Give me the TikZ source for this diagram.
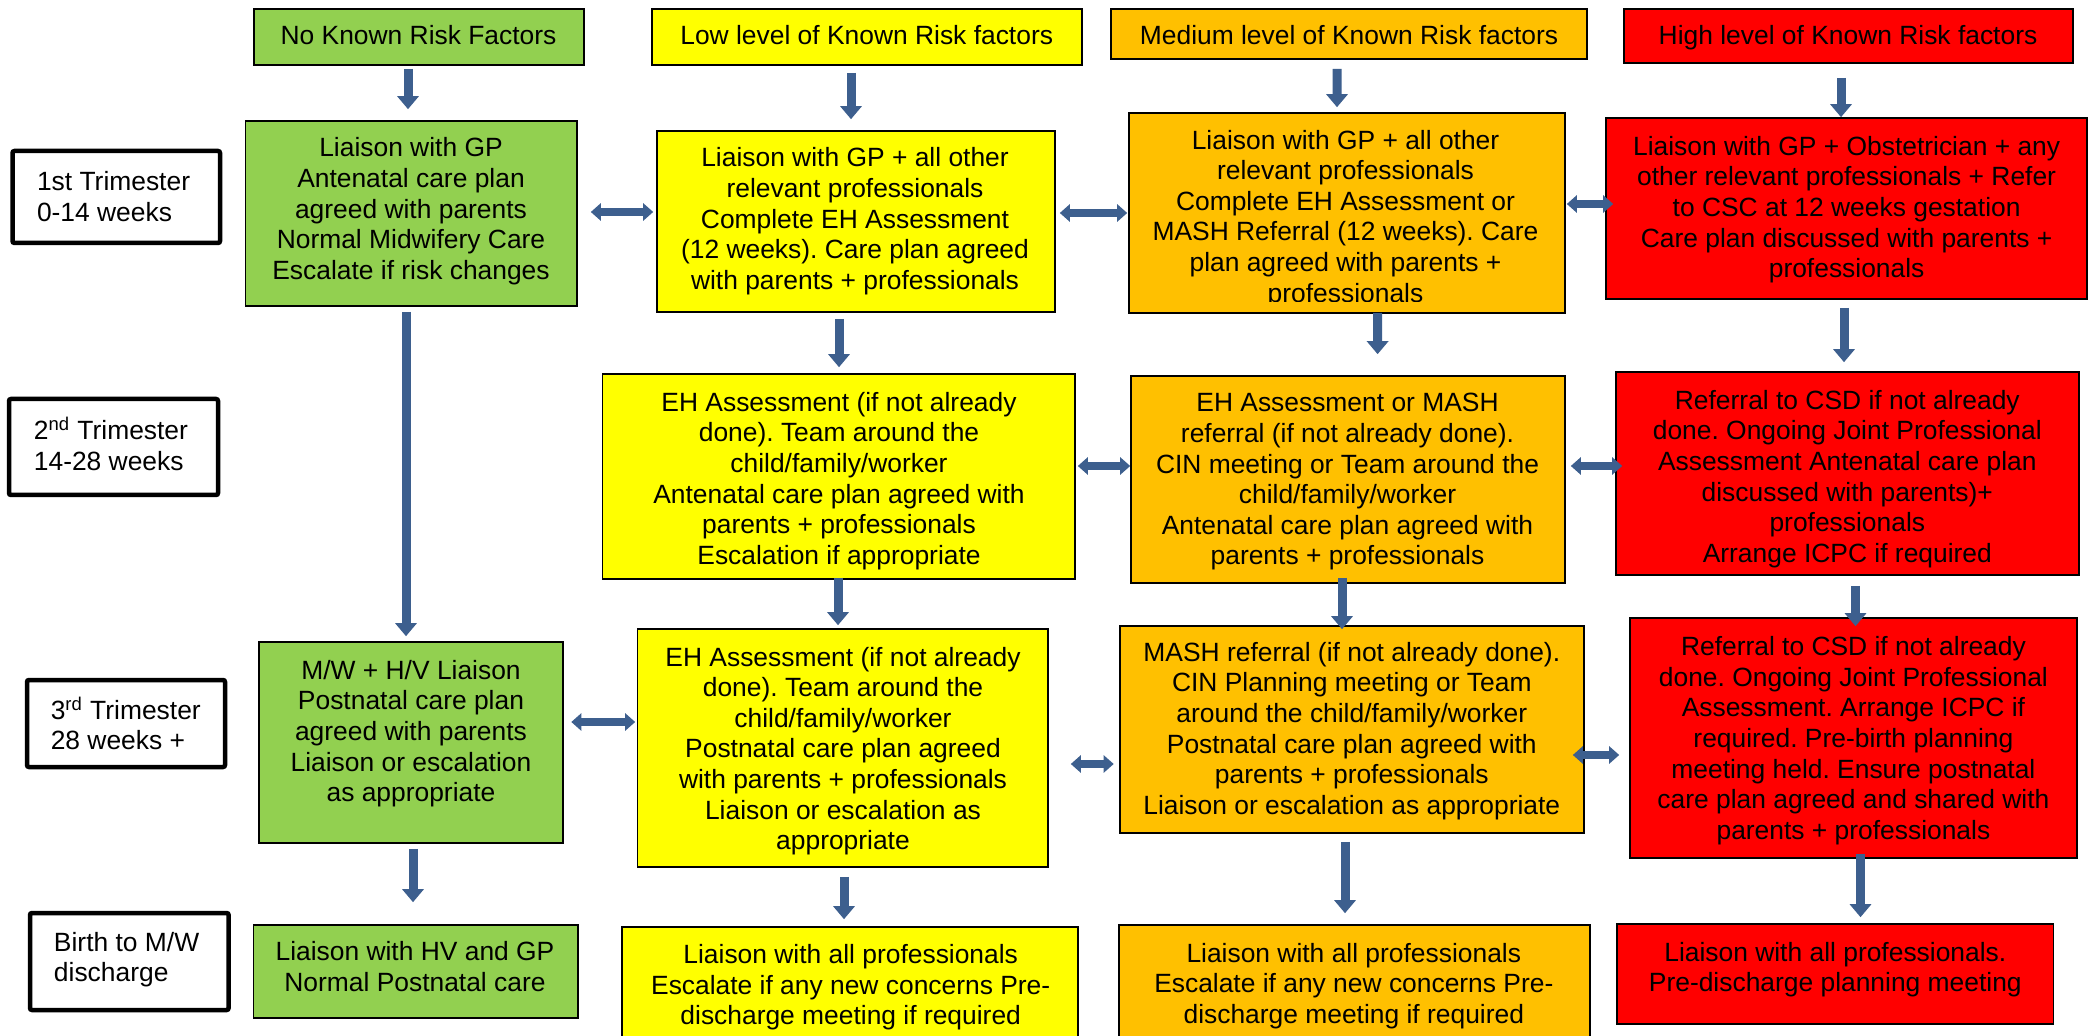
\documentclass[tikz,border=0pt]{standalone}
\usepackage{fontspec}
\setmainfont{Liberation Sans}
\usetikzlibrary{arrows.meta,calc,fit}
\definecolor{cgreen}{HTML}{92D050}
\definecolor{cyellow}{HTML}{FFFF00}
\definecolor{corange}{HTML}{FFC000}
\definecolor{cred}{HTML}{FF0000}
\definecolor{arrowc}{HTML}{3D5F8E}
\newcommand{\fs}{\fontsize{13.2pt}{15.3pt}\selectfont\frenchspacing}
\tikzset{
  box/.style={draw=black, line width=0.8pt, inner sep=0pt},
  hdr/.style={draw=black, line width=1pt, inner sep=0pt},
  lbl/.style={draw=black, line width=2.25pt, inner sep=0pt, rounded corners=1pt, fill=white},
  txt/.style={inner sep=0pt, align=center, font=\fs},
  ltxt/.style={inner sep=0pt, align=left, anchor=west, font=\fs},
  varrow/.style={draw=arrowc, line width=4.5pt, -{Triangle[width=10.5pt,length=6.5pt]}},
  harrow/.style={draw=arrowc, line width=4pt, {Triangle[width=8.5pt,length=5pt]}-{Triangle[width=8.5pt,length=5pt]}},
}
\begin{document}
\frenchspacing
\begin{tikzpicture}[x=0.5pt,y=-0.5pt]
\fill[white] (0,0) rectangle (2092,1036);
\useasboundingbox (0,0) rectangle (2092,1036);

% headers
\node[hdr, fill=cgreen, fit={(253.6,9)(584,65)}] (nk) {};
\node[hdr, fill=cyellow, fit={(651.6,9)(1082,65)}] (lo) {};
\node[hdr, fill=corange, fit={(1111,9)(1586.6,59)}] (me) {};
\node[hdr, fill=cred, fit={(1624,9)(2072.5,63)}] (hi) {};
\node[txt] (nkt) at (418.5,38.4) {\strut No Known Risk Factors\strut};
\node[txt] (lot) at (866.7,38.4) {\strut Low level of Known Risk factors\strut};
\node[txt] (met) at (1349,38.4) {\strut Medium level of Known Risk factors\strut};
\node[txt] (hit) at (1848,38.4) {\strut High level of Known Risk factors\strut};

% row labels
\node[lbl, fit={(12.5,151)(220,243)}] (l1) {};
\node[lbl, fit={(9,399)(218,495)}] (l2) {};
\node[lbl, fit={(27,680)(225,767)}] (l3) {};
\node[lbl, fit={(30,913)(228.6,1010)}] (l4) {};
\node[ltxt] (l1t) at (36.6,199.9) {\strut 1st Trimester\\0-14 weeks\strut};
\node[ltxt] (l2t) at (33.5,448.4) {\strut 2\textsuperscript{nd} Trimester\\14-28 weeks\strut};
\node[ltxt] (l3t) at (50.4,727.9) {\strut 3\textsuperscript{rd} Trimester\\28 weeks +\strut};
\node[ltxt] (l4t) at (53.6,960.4) {\strut Birth to M/W\\discharge\strut};

% content boxes
\node[box, fill=cgreen, fit={(245.5,121)(577,306)}] (g1) {};
\node[box, fill=cyellow, fit={(656.7,131)(1054.7,312)}] (y1) {};
\node[box, fill=corange, fit={(1128.7,113)(1565,313)}] (o1) {};
\node[box, fill=cred, fit={(1606,118)(2087,299)}] (r1) {};

\node[box, fill=cyellow, fit={(602.5,374)(1075,579)}] (y2) {};
\node[box, fill=corange, fit={(1131,376)(1565,583)}] (o2) {};
\node[box, fill=cred, fit={(1616,372)(2079,575)}] (r2) {};

\node[box, fill=cgreen, fit={(259,642)(563,843)}] (g2) {};
\node[box, fill=cyellow, fit={(637.5,629)(1048,867)}] (y3) {};
\node[box, fill=corange, fit={(1120,626)(1584,833)}] (o3) {};
\node[box, fill=cred, fit={(1630,618)(2077,858)}] (r3) {};

\node[box, fill=cgreen, fit={(253.6,925)(578,1018)}] (g3) {};
\node[box, fill=cyellow, fit={(622,927)(1078,1050)}] (y4) {};
\node[box, fill=corange, fit={(1119,925)(1590,1050)}] (o4) {};
\node[box, fill=cred, fit={(1617,924)(2053.5,1024)}] (r4) {};

% texts
\node[txt] (g1t) at (411,211.9) {\strut Liaison with GP\\Antenatal care plan\\agreed with parents\\Normal Midwifery Care\\Escalate if risk changes\strut};
\node[txt] (y1t) at (855,222) {\strut Liaison with GP + all other\\relevant professionals\\Complete EH Assessment\\(12 weeks). Care plan agreed\\with parents + professionals\strut};
\begin{scope}
\clip (1128.7,113) rectangle (1565,302);
\node[txt] (o1t) at (1345.5,219.4) {\strut Liaison with GP + all other\\relevant professionals\\Complete EH Assessment or\\MASH Referral (12 weeks). Care\\plan agreed with parents +\\professionals\strut};
\end{scope}
\node[txt] (r1t) at (1846.6,210.4) {\strut Liaison with GP + Obstetrician + any\\other relevant professionals + Refer\\to CSC at 12 weeks gestation\\Care plan discussed with parents +\\professionals\strut};

\node[txt] (y2t) at (839,481.7) {\strut EH Assessment (if not already\\done). Team around the\\child/family/worker\\Antenatal care plan agreed with\\parents + professionals\\Escalation if appropriate\strut};
\node[txt] (o2t) at (1347.5,482.2) {\strut EH Assessment or MASH\\referral (if not already done).\\CIN meeting or Team around the\\child/family/worker\\Antenatal care plan agreed with\\parents + professionals\strut};
\node[txt] (r2t) at (1847.3,479.7) {\strut Referral to CSD if not already\\done. Ongoing Joint Professional\\Assessment Antenatal care plan\\discussed with parents)+\\professionals\\Arrange ICPC if required\strut};

\node[txt] (g2t) at (411,734.4) {\strut M/W + H/V Liaison\\Postnatal care plan\\agreed with parents\\Liaison or escalation\\as appropriate\strut};
\node[txt] (y3t) at (843,751.7) {\strut EH Assessment (if not already\\done). Team around the\\child/family/worker\\Postnatal care plan agreed\\with parents + professionals\\Liaison or escalation as\\appropriate\strut};
\node[txt] (o3t) at (1351.8,731.7) {\strut MASH referral (if not already done).\\CIN Planning meeting or Team\\around the child/family/worker\\Postnatal care plan agreed with\\parents + professionals\\Liaison or escalation as appropriate\strut};
\node[txt] (r3t) at (1853.4,741.4) {\strut Referral to CSD if not already\\done. Ongoing Joint Professional\\Assessment. Arrange ICPC if\\required. Pre-birth planning\\meeting held. Ensure postnatal\\care plan agreed and shared with\\parents + professionals\strut};

\node[txt] (g3t) at (415,970.1) {\strut Liaison with HV and GP\\Normal Postnatal care\strut};
\node[txt] (y4t) at (850.7,988) {\strut Liaison with all professionals\\Escalate if any new concerns Pre-\\discharge meeting if required\strut};
\node[txt] (o4t) at (1353.8,986.7) {\strut Liaison with all professionals\\Escalate if any new concerns Pre-\\discharge meeting if required\strut};
\node[txt] (r4t) at (1835.3,970.4) {\strut Liaison with all professionals.\\Pre-discharge planning meeting\strut};

% vertical arrows
\draw[varrow] ($(nk.south)+(-10.8,3)$) -- ($(g1.north)+(-3.25,-11)$);
\draw[varrow] ($(lo.south)+(-15.8,7)$) -- ($(y1.north)+(-4.7,-11)$);
\draw[varrow] ($(me.south)+(-11.8,9)$) -- ($(o1.north)+(-9.85,-5)$);
\draw[varrow] ($(hi.south)+(-7.25,14)$) -- ($(r1.north)+(-5.5,0)$);
\draw[varrow] ($(g1.south)+(-5.25,5)$) -- ($(g2.north)+(-5,-5)$);
\draw[varrow] ($(y1.south)+(-16.7,6)$) -- ($(y2.north)+(0.25,-6)$);
\draw[varrow] ($(o1.south)+(30.75,-1)$) -- ($(o2.north)+(29.6,-21)$);
\draw[varrow] ($(r1.south)+(-2.5,8)$) -- ($(r2.north)+(-3.5,-9)$);
\draw[varrow] ($(y2.south)+(-0.75,-2)$) -- ($(y3.north)+(-4.75,-3)$);
\draw[varrow] ($(o2.south)+(-6,-6)$) -- ($(o3.north)+(-10,4)$);
\draw[varrow] ($(r2.south)+(8,10)$) -- ($(r3.north)+(2,9)$);
\draw[varrow] ($(g2.south)+(2,5)$) -- ($(g3.north)+(-2.8,-22)$);
\draw[varrow] ($(y3.south)+(1.25,9)$) -- ($(y4.north)+(-6,-7)$);
\draw[varrow] ($(o3.south)+(-7,8)$) -- ($(o4.north)+(-9.5,-11)$);
\draw[varrow] ($(r3.south)+(7,-5)$) -- ($(r4.north)+(25.25,-6)$);

% horizontal double arrows
\draw[harrow] ($(g1.east)+(13,-1.5)$) -- ($(y1.west)+(-2.7,-9.5)$);
\draw[harrow] ($(y1.east)+(4.3,-8.5)$) -- ($(o1.west)+(-0.7,0)$);
\draw[harrow] ($(o1.east)+(1,-9)$) -- ($(r1.west)+(8,-4.5)$);
\draw[harrow] ($(y2.east)+(2,-10.5)$) -- ($(o2.west)+(0,-13.5)$);
\draw[harrow] ($(o2.east)+(5,-13.5)$) -- ($(r2.west)+(7,-7.5)$);
\draw[harrow] ($(g2.east)+(7.5,-20.5)$) -- ($(y3.west)+(-1.5,-26)$);
\draw[harrow] ($(y3.east)+(22,16)$) -- ($(o3.west)+(-5.5,34.5)$);
\draw[harrow] ($(o3.east)+(-12,25.5)$) -- ($(r3.west)+(-10,17)$);
\end{tikzpicture}
\end{document}
